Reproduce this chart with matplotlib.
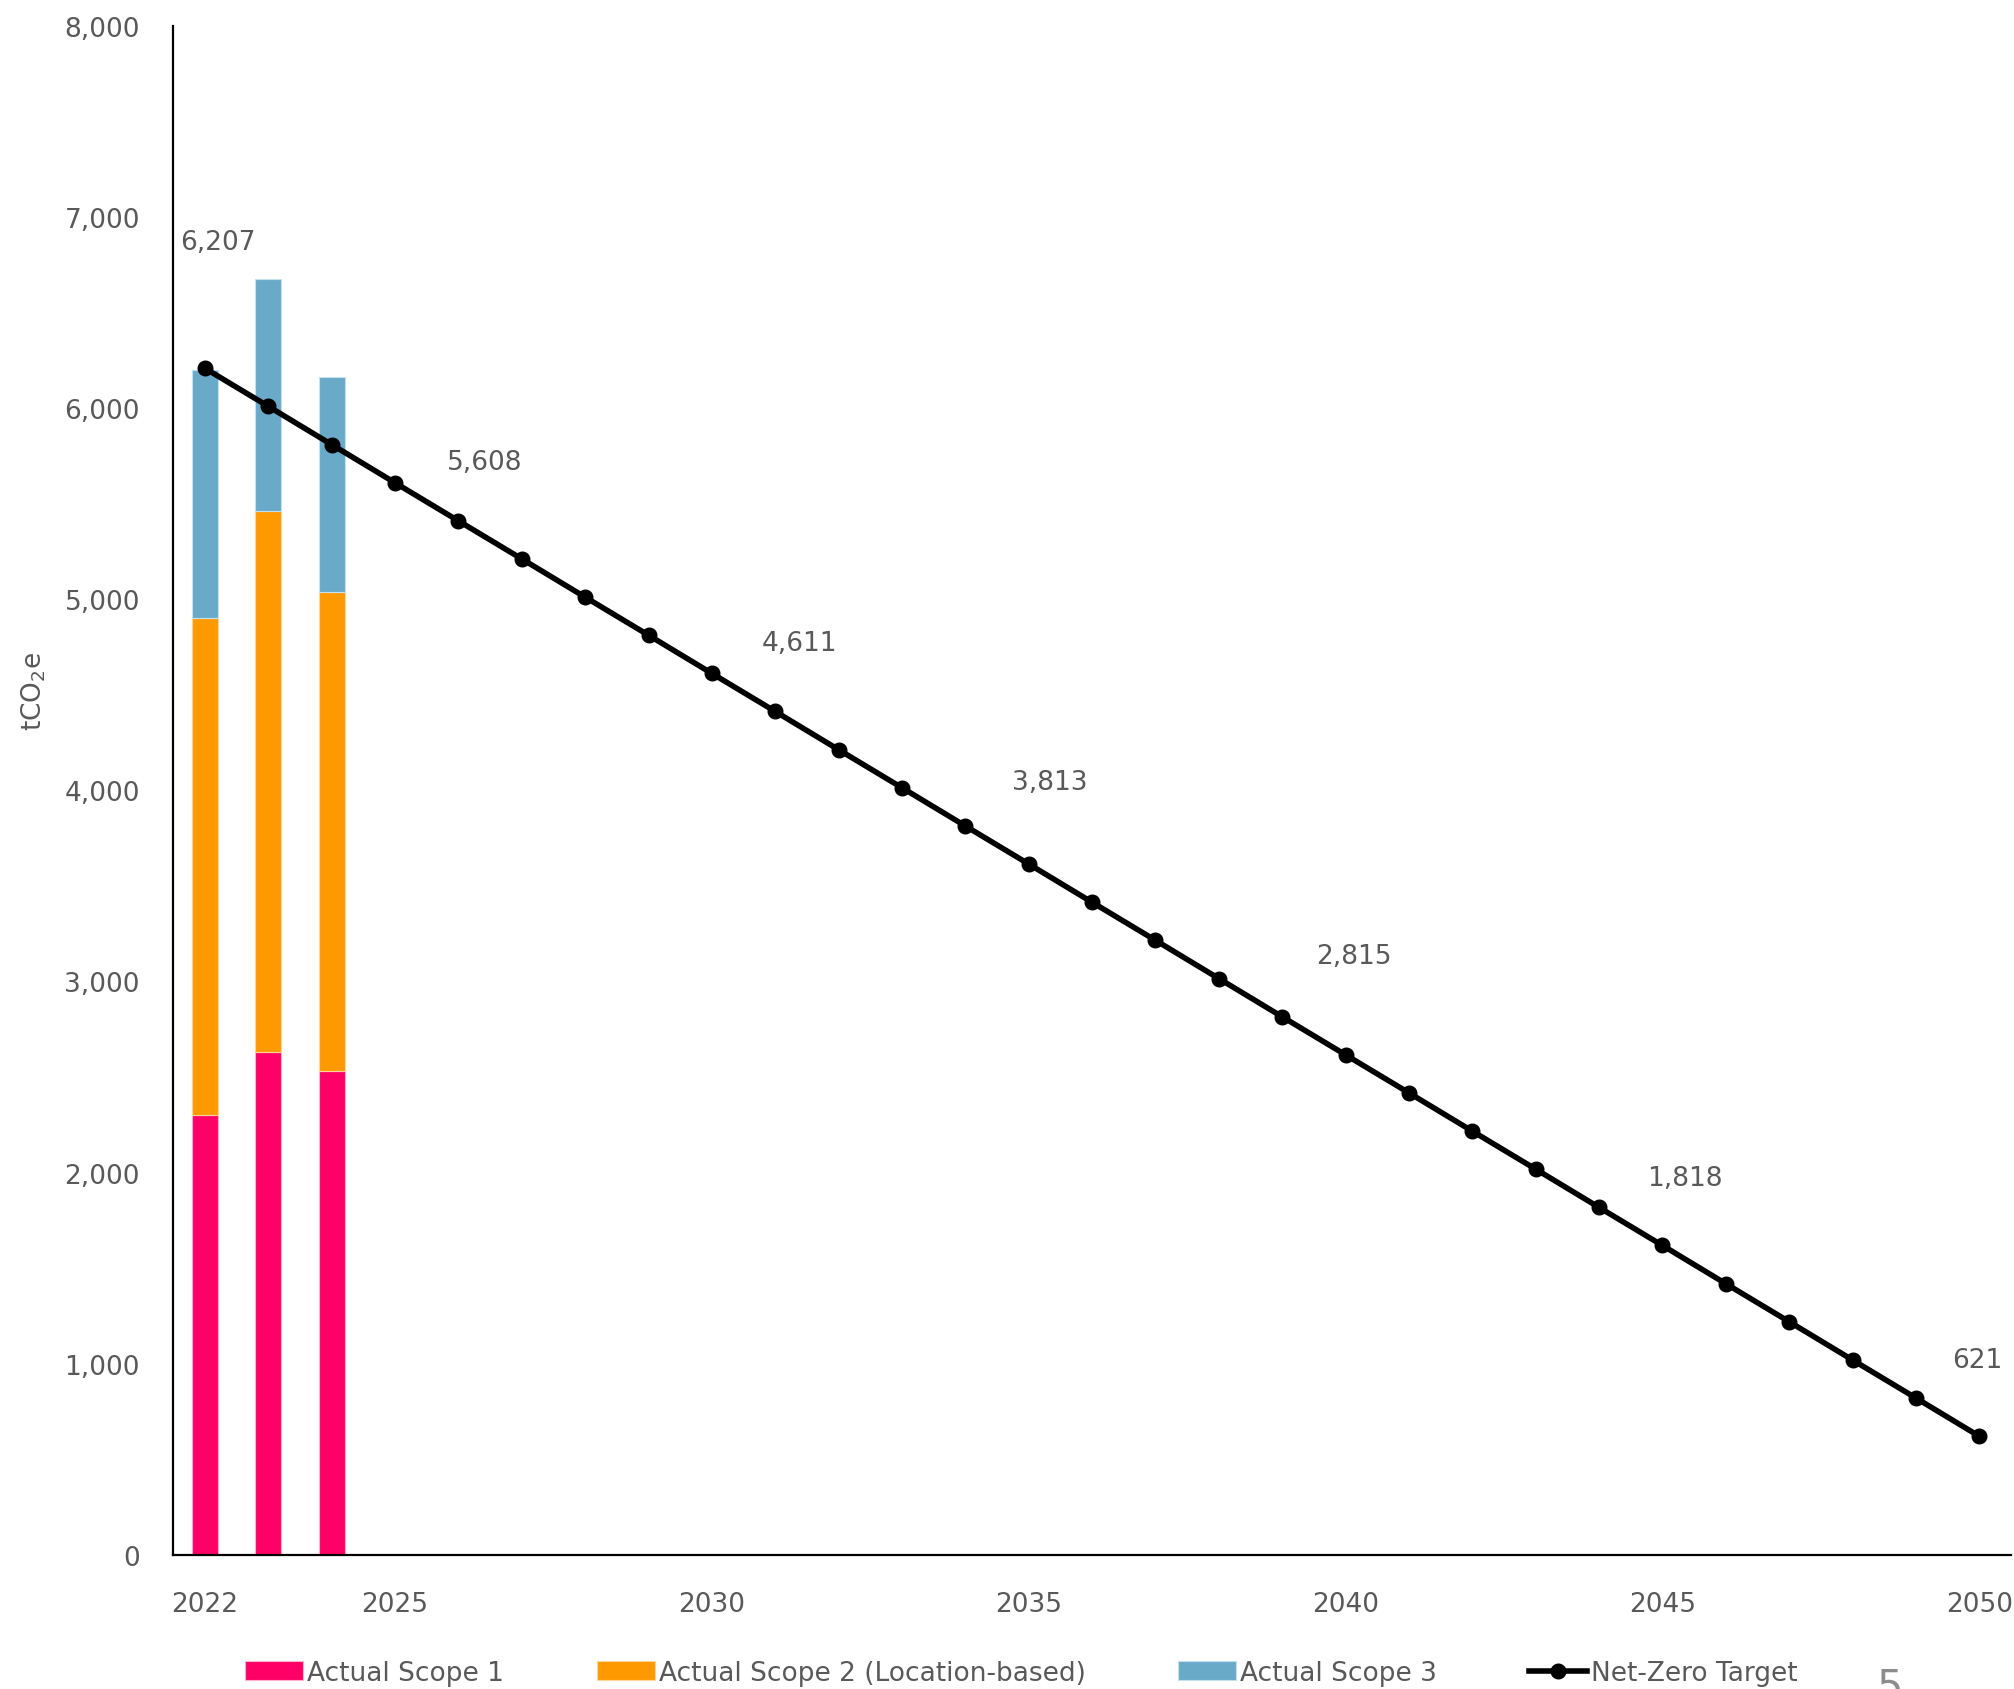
import matplotlib
matplotlib.use("Agg")
import matplotlib.pyplot as plt
from matplotlib.ticker import FuncFormatter

years = list(range(2022, 2051))
bar_years = [2022, 2023, 2024]
scope1 = [2300, 2630, 2530]
scope2 = [2600, 2830, 2505]
scope3 = [1300, 1215, 1125]
target = [6207, 6008, 5808, 5608, 5409, 5210, 5010, 4811, 4611, 4412,
          4212, 4013, 3813, 3614, 3414, 3215, 3015, 2815, 2616, 2417,
          2217, 2018, 1818, 1619, 1419, 1220, 1020, 821, 621]
label_years = [2022, 2025, 2030, 2034, 2039, 2044, 2050]
xtick_years = [2022, 2025, 2030, 2035, 2040, 2045, 2050]

PINK = "#ff0066"
ORANGE = "#ff9900"
BLUE = "#6aaac9"
GREY = "#595959"

plt.rcParams["font.family"] = ["DejaVu Sans"]

fig = plt.figure(figsize=(20.15, 16.9), dpi=100)
ax = fig.add_axes([0.086, 0.0793, 0.912, 0.905])

w = 0.41
ax.bar(bar_years, scope1, width=w, color=PINK, edgecolor="#ffb0cc", linewidth=0.8,
       label="Actual Scope 1", zorder=2)
base2 = scope1
ax.bar(bar_years, scope2, width=w, bottom=base2, color=ORANGE, edgecolor="#ffd59a",
       linewidth=0.8, label="Actual Scope 2 (Location-based)", zorder=2)
base3 = [a + b for a, b in zip(scope1, scope2)]
ax.bar(bar_years, scope3, width=w, bottom=base3, color=BLUE, edgecolor="#c5e0ee",
       linewidth=0.8, label="Actual Scope 3", zorder=2)
ax.plot(years, target, color="black", linewidth=4, marker="o", markersize=10.5,
        label="Net-Zero Target", zorder=3)

# data labels placed above/right of selected target points (pixel offsets)
offsets = [(13, 126), (90, 21), (88, 30), (84, 44), (72, 61), (86, 29), (-2, 76)]
for yr, (dx, dy) in zip(label_years, offsets):
    v = target[years.index(yr)]
    ax.annotate(f"{v:,}", (yr, v), xytext=(dx, dy), textcoords="offset pixels",
                ha="center", va="center", fontsize=19, color=GREY)

ax.set_xlim(2021.5, 2050.5)
ax.set_ylim(0, 8000)
ax.set_xticks(xtick_years)
ax.set_yticks(range(0, 8001, 1000))
ax.yaxis.set_major_formatter(FuncFormatter(lambda v, p: f"{int(v):,}"))
ax.tick_params(axis="both", length=0, labelsize=19, labelcolor=GREY)
ax.tick_params(axis="x", pad=26)
ax.tick_params(axis="y", pad=24)
for s in ["top", "right"]:
    ax.spines[s].set_visible(False)
for s in ["left", "bottom"]:
    ax.spines[s].set_color("black")
    ax.spines[s].set_linewidth(1.6)

ax.set_ylabel(r"tCO$_\mathregular{2}$e", fontsize=19, color=GREY)
ax.yaxis.set_label_coords(-0.068, 0.565)

handles, labels = ax.get_legend_handles_labels()
order = [1, 2, 3, 0]
fig.legend([handles[i] for i in order], [labels[i] for i in order],
           loc="center", bbox_to_anchor=(0.507, 0.0095), ncol=4, frameon=False,
           fontsize=19, labelcolor=GREY, handlelength=2.2, handleheight=0.7,
           handletextpad=0.15, columnspacing=3.5)

fig.text(0.938, 0.014, "5", fontsize=30, color="#8c8c8c", ha="center", va="top")

fig.savefig("out.png", dpi=100)
